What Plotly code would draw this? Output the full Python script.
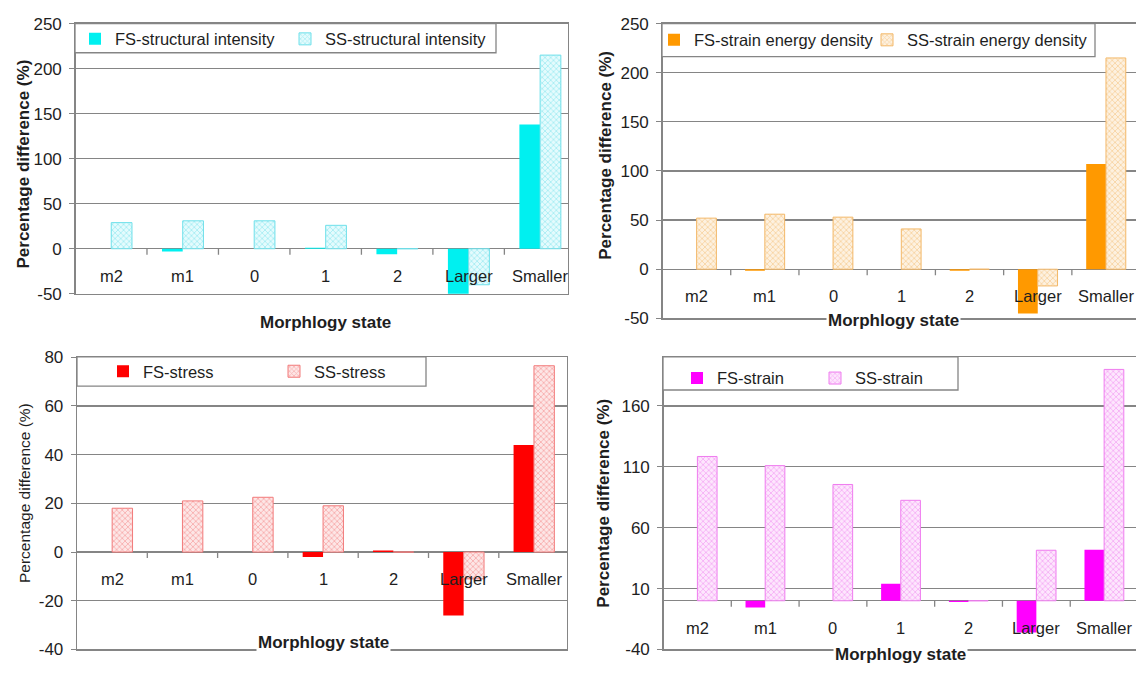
import plotly.graph_objects as go

# ---------------- data ----------------
categories = ["m2", "m1", "0", "1", "2", "Larger", "Smaller"]

fs_structural_intensity = [0, -3, 0, 1, -6, -52, 138]
ss_structural_intensity = [29, 31, 31, 26, 0, -40, 215]

fs_strain_energy_density = [0, -1.5, 0, 0, -1.5, -45, 107]
ss_strain_energy_density = [52, 56, 53, 41, 0, -17, 215]

fs_stress = [0, 0, 0, -2, 0.6, -26, 44]
ss_stress = [18, 21, 22.5, 19, 0, -11, 76.5]

fs_strain = [0, -5.5, 0, 14, -1, -26, 42]
ss_strain = [118.5, 111, 95.5, 82.5, 0, 41.5, 190]

yticks_top = [-50, 0, 50, 100, 150, 200, 250]
yticks_stress = [-40, -20, 0, 20, 40, 60, 80]
yticks_strain = [-40, 10, 60, 110, 160]

x_title = "Morphlogy state"
y_title = "Percentage difference (%)"

# ---------------- layout helpers ----------------
W, H = 1136, 676
FONT = "Liberation Sans, Arial, sans-serif"
GRID = "#858585"
TXT = "#1e1e1e"


def px(x):
    return x / W


def py(y):
    return 1 - y / H


panels = [
    dict(fs=fs_structural_intensity, ss=ss_structural_intensity,
         names=("FS-structural intensity", "SS-structural intensity"),
         color="#00f0f0", light="#6fe0ea", pale="#e4fbfd",
         xd=(75.5, 568), yd=(15, 293), xmax=6.39, yr=(-50, 250), ticks=yticks_top,
         box=(75, 15, 496, 45), legx=(75, 285), legy=31,
         ytitle=(24, 160, True, 17), xtitle=(325, 323, False), ymirror=True),
    dict(fs=fs_strain_energy_density, ss=ss_strain_energy_density,
         names=("FS-strain energy density", "SS-strain energy density"),
         color="#ff9900", light="#f3b868", pale="#fdf1e0",
         xd=(662.5, 1136), yd=(15, 318.3), xmax=6.44, yr=(-50, 250), ticks=yticks_top,
         box=(662, 15, 1095, 49), legx=(654, 867), legy=32,
         ytitle=(606, 151, True, 17), xtitle=(893, 321, True), ymirror=False),
    dict(fs=fs_stress, ss=ss_stress,
         names=("FS-stress", "SS-stress"),
         color="#ff0000", light="#f27a7a", pale="#fde6e6",
         xd=(77, 567), yd=(358.3, 659), xmax=6.47, yr=(-40, 80), ticks=yticks_stress,
         box=(77, 358, 426, 388), legx=(103, 274), legy=373,
         ytitle=(24, 498, False, 15.5), xtitle=(323, 652, True), ymirror=True),
    dict(fs=fs_strain, ss=ss_strain,
         names=("FS-strain", "SS-strain"),
         color="#ff00ff", light="#ef7cef", pale="#fde6fd",
         xd=(663.5, 1136), yd=(358.3, 659), xmax=6.47, yr=(-40, 200), ticks=yticks_strain,
         box=(663, 358, 958, 392), legx=(677, 815), legy=380,
         ytitle=(604, 509, True, 17), xtitle=(900, 664, True), ymirror=False),
]

fig = go.Figure()
shapes = []
annotations = []
layout_upd = {}
leg_n = 0


def next_legend(x, y):
    global leg_n
    leg_n += 1
    key = "legend" if leg_n == 1 else f"legend{leg_n}"
    layout_upd[key] = dict(
        x=px(x), y=py(y), xanchor="left", yanchor="middle",
        orientation="h", bgcolor="rgba(0,0,0,0)", borderwidth=0,
        font=dict(family=FONT, size=16.5, color=TXT),
        itemclick=False, itemdoubleclick=False,
    )
    return key


for i, p in enumerate(panels, start=1):
    sfx = "" if i == 1 else str(i)
    xa, ya = "x" + sfx, "y" + sfx

    fig.add_trace(go.Bar(
        x=categories, y=p["fs"], name=p["names"][0],
        marker=dict(color=p["color"], line=dict(width=0)),
        xaxis=xa, yaxis=ya, legend=next_legend(p["legx"][0], p["legy"]),
        offsetgroup="fs",
    ))
    fig.add_trace(go.Bar(
        x=categories, y=p["ss"], name=p["names"][1],
        marker=dict(color=p["pale"],
                    line=dict(color=p["light"], width=1),
                    pattern=dict(shape="x", fgcolor=p["light"], bgcolor=p["pale"],
                                 size=4, solidity=0.4)),
        xaxis=xa, yaxis=ya, legend=next_legend(p["legx"][1], p["legy"]),
        offsetgroup="ss",
    ))

    layout_upd["xaxis" + sfx] = dict(
        domain=[px(p["xd"][0]), px(p["xd"][1])], anchor=ya,
        type="category", range=[-0.5, p["xmax"]],
        showticklabels=False, ticks="", showgrid=False,
        showline=True, mirror=True, linecolor=GRID, linewidth=1.3,
        fixedrange=True,
    )
    layout_upd["yaxis" + sfx] = dict(
        domain=[py(p["yd"][1]), py(p["yd"][0])], anchor=xa,
        range=list(p["yr"]), tickvals=p["ticks"],
        ticktext=[str(v) for v in p["ticks"]],
        showgrid=True, gridcolor=GRID, gridwidth=1.3,
        zeroline=True, zerolinecolor=GRID, zerolinewidth=1.3,
        showline=True, mirror=p["ymirror"], linecolor=GRID, linewidth=1.3,
        ticks="outside", ticklen=5, tickcolor=GRID,
        tickfont=dict(family=FONT, size=17, color=TXT),
        ticklabelstandoff=4, fixedrange=True,
    )

    # legend frame
    bx0, by0, bx1, by1 = p["box"]
    shapes.append(dict(type="rect", xref="paper", yref="paper",
                       x0=px(bx0), x1=px(bx1), y0=py(by1), y1=py(by0),
                       line=dict(color=GRID, width=1.3), fillcolor="white",
                       layer="above"))

    # category-axis boundary ticks on the zero line
    for k in range(1, len(categories)):
        shapes.append(dict(type="line", xref=xa, yref=ya,
                           x0=k - 0.5, x1=k - 0.5,
                           ysizemode="pixel", yanchor=0, y0=0, y1=-6,
                           line=dict(color=GRID, width=1.3)))

    # category labels just below the zero line (positioned by index)
    for k, c in enumerate(categories):
        annotations.append(dict(x=k, y=0, xref=xa, yref=ya, text=c,
                                showarrow=False, yshift=-27,
                                font=dict(family=FONT, size=16.5, color=TXT)))

    # y-axis title
    tx, ty, bold, fs = p["ytitle"]
    annotations.append(dict(x=px(tx), y=py(ty), xref="paper", yref="paper",
                            text=(f"<b>{y_title}</b>" if bold else y_title),
                            textangle=-90, showarrow=False,
                            xanchor="center", yanchor="middle",
                            font=dict(family=FONT, size=fs, color=TXT)))
    # x-axis title
    tx, ty, bg = p["xtitle"]
    annotations.append(dict(x=px(tx), y=py(ty), xref="paper", yref="paper",
                            text=f"<b>{x_title}</b>", showarrow=False,
                            xanchor="center", yanchor="middle",
                            bgcolor=("white" if bg else None), borderpad=1,
                            font=dict(family=FONT, size=17, color=TXT)))

fig.update_layout(
    width=W, height=H,
    margin=dict(l=0, r=0, t=0, b=0),
    paper_bgcolor="white", plot_bgcolor="white",
    barmode="group", bargap=0.42, bargroupgap=0,
    showlegend=True,
    shapes=shapes, annotations=annotations,
    font=dict(family=FONT, color=TXT),
    **layout_upd,
)

fig.write_html("out.html", config={"displayModeBar": False, "staticPlot": True},
               post_script="document.body.style.margin='0';document.body.style.overflow='hidden';")
